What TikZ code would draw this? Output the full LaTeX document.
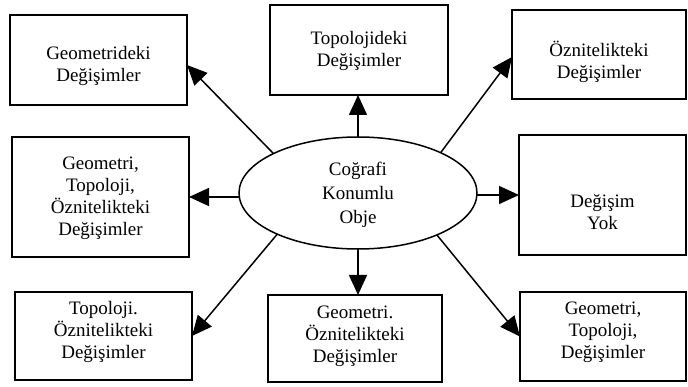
\documentclass[tikz,border=0pt]{standalone}
\usepackage{fontspec}
\setmainfont{Liberation Serif}
\usetikzlibrary{shapes.geometric,arrows.meta}
\tikzset{
  box/.style={draw, line width=1.5pt, rectangle, inner sep=0pt, outer sep=0pt},
  txt/.style={align=center, inner sep=0pt, font=\fontsize{19}{22}\selectfont},
  conn/.style={line width=1.5pt, -{Triangle[length=20pt,width=18pt]}}
}
\begin{document}
\begin{tikzpicture}[x=1pt,y=-1pt]
\useasboundingbox[fill=white] (0,0) rectangle (688,387);
% boxes
\node[box, minimum width=177pt, minimum height=90pt] (tl) at (98.5,60) {};
\node[box, minimum width=178pt, minimum height=90pt] (tm) at (359,50) {};
\node[box, minimum width=174pt, minimum height=89pt] (tr) at (599,54.5) {};
\node[box, minimum width=177pt, minimum height=120pt] (ml) at (100.5,197) {};
\node[box, minimum width=167pt, minimum height=120pt] (mr) at (602.5,195) {};
\node[box, minimum width=177pt, minimum height=88pt] (bl) at (103.5,336) {};
\node[box, minimum width=174pt, minimum height=87pt] (bm) at (355,338.5) {};
\node[box, minimum width=166pt, minimum height=89pt] (br) at (603,336.5) {};
\node[draw, ellipse, line width=1.5pt, minimum width=238pt, minimum height=112pt, inner sep=0pt, outer sep=0pt] (e) at (358,193) {};
% texts
\node[txt] (tlt) at (98.5,66) {Geometrideki\\Değişimler};
\node[txt] (tmt) at (359,51) {Topolojideki\\Değişimler};
\node[txt] (trt) at (599,62) {Öznitelikteki\\Değişimler};
\node[txt] (mlt) at (100.5,198) {Geometri,\\Topoloji,\\Öznitelikteki\\Değişimler};
\node[txt] (mrt) at (602.5,212) {Değişim\\Yok};
\node[txt] (blt) at (103.5,332) {Topoloji.\\Öznitelikteki\\Değişimler};
\node[txt] (bmt) at (355,336) {Geometri.\\Öznitelikteki\\Değişimler};
\node[txt] (brt) at (603,332) {Geometri,\\Topoloji,\\Değişimler};
\node[txt, font=\fontsize{19}{24}\selectfont] (et) at (358,195) {Coğrafi\\Konumlu\\Obje};
% connectors
\draw[conn] (e.155) -- ([yshift=-5pt]tl.east);
\draw[conn] (e.north) -- (e.north |- tm.south);
\draw[conn] (e.26) -- ([yshift=-2.5pt]tr.west);
\draw[conn] (e.west |- ml.east) -- (ml.east);
\draw[conn] (e.east |- mr.west) -- (mr.west);
\draw[conn] (e.207) -- (bl.east);
\draw[conn] (e.south) -- (e.south |- bm.north);
\draw[conn] (e.332) -- (br.west);
\end{tikzpicture}
\end{document}
